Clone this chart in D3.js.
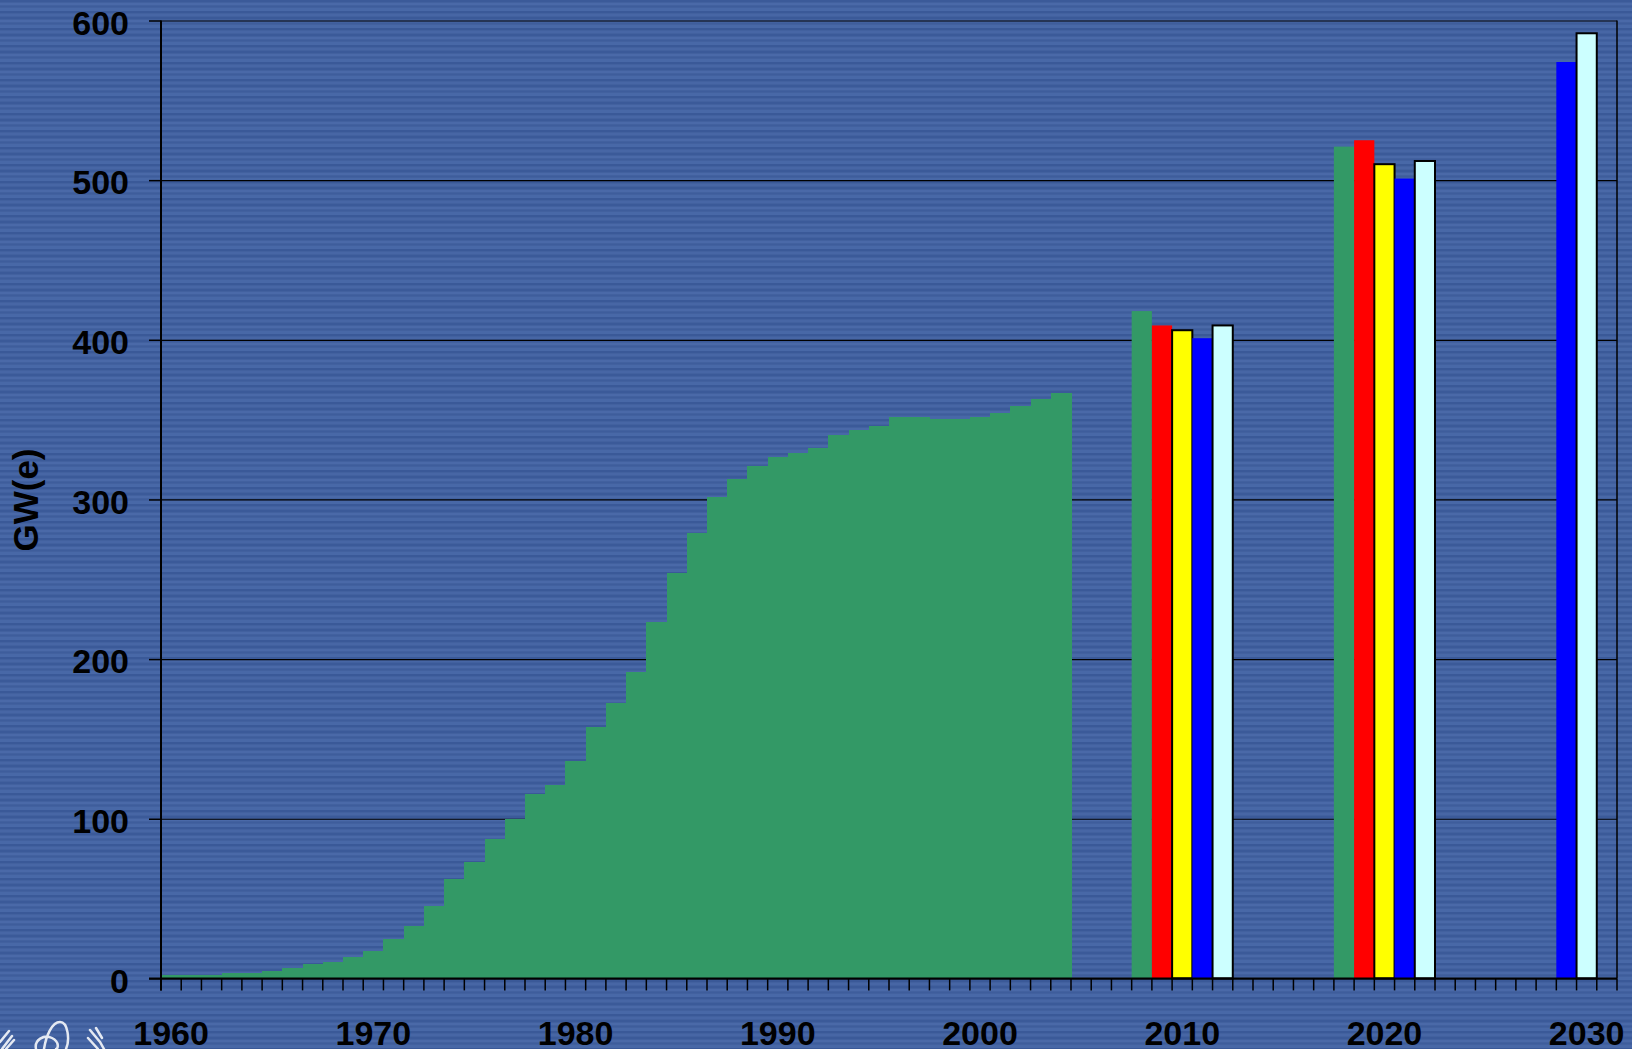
<!DOCTYPE html>
<html>
<head>
<meta charset="utf-8">
<script src="https://cdn.jsdelivr.net/npm/d3@7"></script>
<style>
  html, body { margin: 0; padding: 0; background: #42619f; }
  svg { display: block; }
  text { font-family: Arial, "Liberation Sans", sans-serif; font-weight: bold; fill: #000; }
</style>
</head>
<body>
<div id="chart"></div>
<script>
// categories: one slot per year on the x axis
var years = d3.range(1960, 2032);
var labelYears = [1960, 1970, 1980, 1990, 2000, 2010, 2020, 2030];
var yTicks = [0, 100, 200, 300, 400, 500, 600];

// historical installed capacity, GW(e), 1960 - 2004
var histStart = 1960;
var histValues = [2, 2, 2, 3.4, 3.4, 4.6, 6.3, 9, 10.3, 13.4,
                  17.2, 24.5, 32.8, 45.4, 62.1, 73.1, 87.3, 100, 115.3, 121,
                  136, 157.7, 172.5, 192.1, 223.1, 253.8, 279, 301.4, 312.7, 321,
                  326.4, 329.3, 332.1, 340.4, 343.3, 346.1, 351.5, 351.5, 350.4, 350.4,
                  351.5, 354.4, 358.6, 362.8, 366.9];

// projections (slot year, value)
var greenYears = [2008, 2018],        greenValues = [418, 521];
var redYears = [2009, 2019],          redValues = [409, 525];
var yellowYears = [2010, 2020],       yellowValues = [406, 510];
var blueYears = [2011, 2021, 2029],   blueValues = [401, 501, 574];
var cyanYears = [2012, 2022, 2030],   cyanValues = [409, 512, 592];

var width = 1632, height = 1049;
var margin = {top: 20.5, right: 15, bottom: 70.6, left: 161};
var chartWidth = width - margin.left - margin.right;
var chartHeight = height - margin.top - margin.bottom;

var svg = d3.select('#chart').append('svg')
    .attr('width', width)
    .attr('height', height);

// striped blue backdrop (uneven horizontal bands)
var defs = svg.append('defs');
var pat = defs.append('pattern')
    .attr('id', 'stripes')
    .attr('patternUnits', 'userSpaceOnUse')
    .attr('width', 40).attr('height', 17);
pat.append('rect').attr('width', 40).attr('height', 17).attr('fill', '#42619f');
var bands = [[0, 2, '#3b5a99'], [3, 2, '#4a69a8'], [6, 1, '#3e5d9c'], [8, 3, '#4868a7'],
             [11, 2, '#3a5998'], [14, 2, '#4766a5']];
bands.forEach(function(b) {
  pat.append('rect').attr('y', b[0]).attr('width', 40).attr('height', b[1]).attr('fill', b[2]);
});
svg.append('rect').attr('width', width).attr('height', height).attr('fill', 'url(#stripes)');

var g = svg.append('g')
    .attr('transform', `translate(${margin.left}, ${margin.top})`);

var xScale = d3.scaleBand()
    .domain(years)
    .range([0, chartWidth])
    .padding(0);

var yScale = d3.scaleLinear()
    .domain([0, 600])
    .range([chartHeight, 0]);

// gridlines
g.append('g')
    .attr('class', 'grid')
    .call(d3.axisLeft(yScale).tickValues(yTicks).tickSize(-chartWidth).tickFormat(''))
    .call(s => s.select('.domain').remove())
    .selectAll('line')
    .attr('stroke', '#000')
    .attr('stroke-width', 1.2);

// y axis ticks and labels
g.append('g')
    .attr('class', 'y axis')
    .call(d3.axisLeft(yScale).tickValues(yTicks).tickSize(12).tickPadding(20))
    .call(s => s.select('.domain').remove())
    .call(s => s.selectAll('line').attr('stroke', '#000').attr('stroke-width', 1.5))
    .selectAll('text')
    .attr('dy', '0.4em')
    .style('font-size', '34px');

// history bars
var hist = histValues.map((v, i) => ({year: histStart + i, value: v}));
g.selectAll('.hist')
    .data(hist)
    .enter()
    .append('rect')
    .attr('class', 'hist')
    .attr('x', d => xScale(d.year))
    .attr('y', d => yScale(d.value))
    .attr('width', xScale.bandwidth() + 0.6)
    .attr('height', d => chartHeight - yScale(d.value))
    .attr('fill', '#339966')
    .attr('shape-rendering', 'crispEdges');

// projection bars
var projSeries = [
  {years: greenYears, values: greenValues, fill: '#339966', stroke: null},
  {years: redYears, values: redValues, fill: '#ff0000', stroke: null},
  {years: yellowYears, values: yellowValues, fill: '#ffff00', stroke: '#000'},
  {years: blueYears, values: blueValues, fill: '#0000ff', stroke: null},
  {years: cyanYears, values: cyanValues, fill: '#ccffff', stroke: '#000'}
];

projSeries.forEach(function(s) {
  var pts = s.years.map((y, i) => ({year: y, value: s.values[i]}));
  g.append('g').selectAll('rect')
      .data(pts)
      .enter()
      .append('rect')
      .attr('x', d => xScale(d.year))
      .attr('y', d => yScale(d.value))
      .attr('width', xScale.bandwidth())
      .attr('height', d => chartHeight - yScale(d.value))
      .attr('fill', s.fill)
      .attr('stroke', s.stroke || 'none')
      .attr('stroke-width', s.stroke ? 2 : 0);
});

// x axis line + ticks at category boundaries
var bounds = years.map(y => xScale(y)).concat([chartWidth]);
g.append('g')
    .attr('class', 'x ticks')
    .selectAll('line')
    .data(bounds)
    .enter()
    .append('line')
    .attr('x1', d => d).attr('x2', d => d)
    .attr('y1', chartHeight).attr('y2', chartHeight + 12)
    .attr('stroke', '#000')
    .attr('stroke-width', 1.5);

g.append('line')
    .attr('x1', -12).attr('x2', chartWidth)
    .attr('y1', chartHeight).attr('y2', chartHeight)
    .attr('stroke', '#000').attr('stroke-width', 2);

// left axis + right border
g.append('line')
    .attr('x1', 0).attr('x2', 0)
    .attr('y1', 0).attr('y2', chartHeight + 12)
    .attr('stroke', '#000').attr('stroke-width', 2);
g.append('line')
    .attr('x1', chartWidth).attr('x2', chartWidth)
    .attr('y1', 0).attr('y2', chartHeight)
    .attr('stroke', '#000').attr('stroke-width', 1.5);

// x labels
g.append('g')
    .attr('class', 'x axis')
    .attr('transform', `translate(0,${chartHeight})`)
    .call(d3.axisBottom(xScale).tickValues(labelYears).tickSize(0))
    .call(s => s.select('.domain').remove())
    .selectAll('text')
    .attr('y', 67)
    .attr('dy', 0)
    .style('font-size', '34px');

// y title
svg.append('text')
    .attr('transform', 'translate(38, 500) rotate(-90)')
    .attr('text-anchor', 'middle')
    .style('font-size', '35px')
    .text('GW(e)');

// partial emblem at bottom-left corner
var logo = svg.append('g')
    .attr('fill', 'none')
    .attr('stroke', '#e4e9f2')
    .attr('stroke-width', 2.5)
    .attr('stroke-linecap', 'round');
logo.append('path').attr('d', 'M2,1049 L12,1036 M0,1042 L9,1031 M6,1049 L14,1040');
logo.append('path').attr('d', 'M36,1049 C34,1040 44,1034 52,1038 C60,1042 58,1049 56,1049 M44,1049 C46,1036 52,1022 60,1022 C68,1022 70,1040 66,1049');
logo.append('path').attr('d', 'M90,1030 L100,1042 L104,1049 M96,1028 L102,1038 M88,1038 L98,1049');
</script>
</body>
</html>
